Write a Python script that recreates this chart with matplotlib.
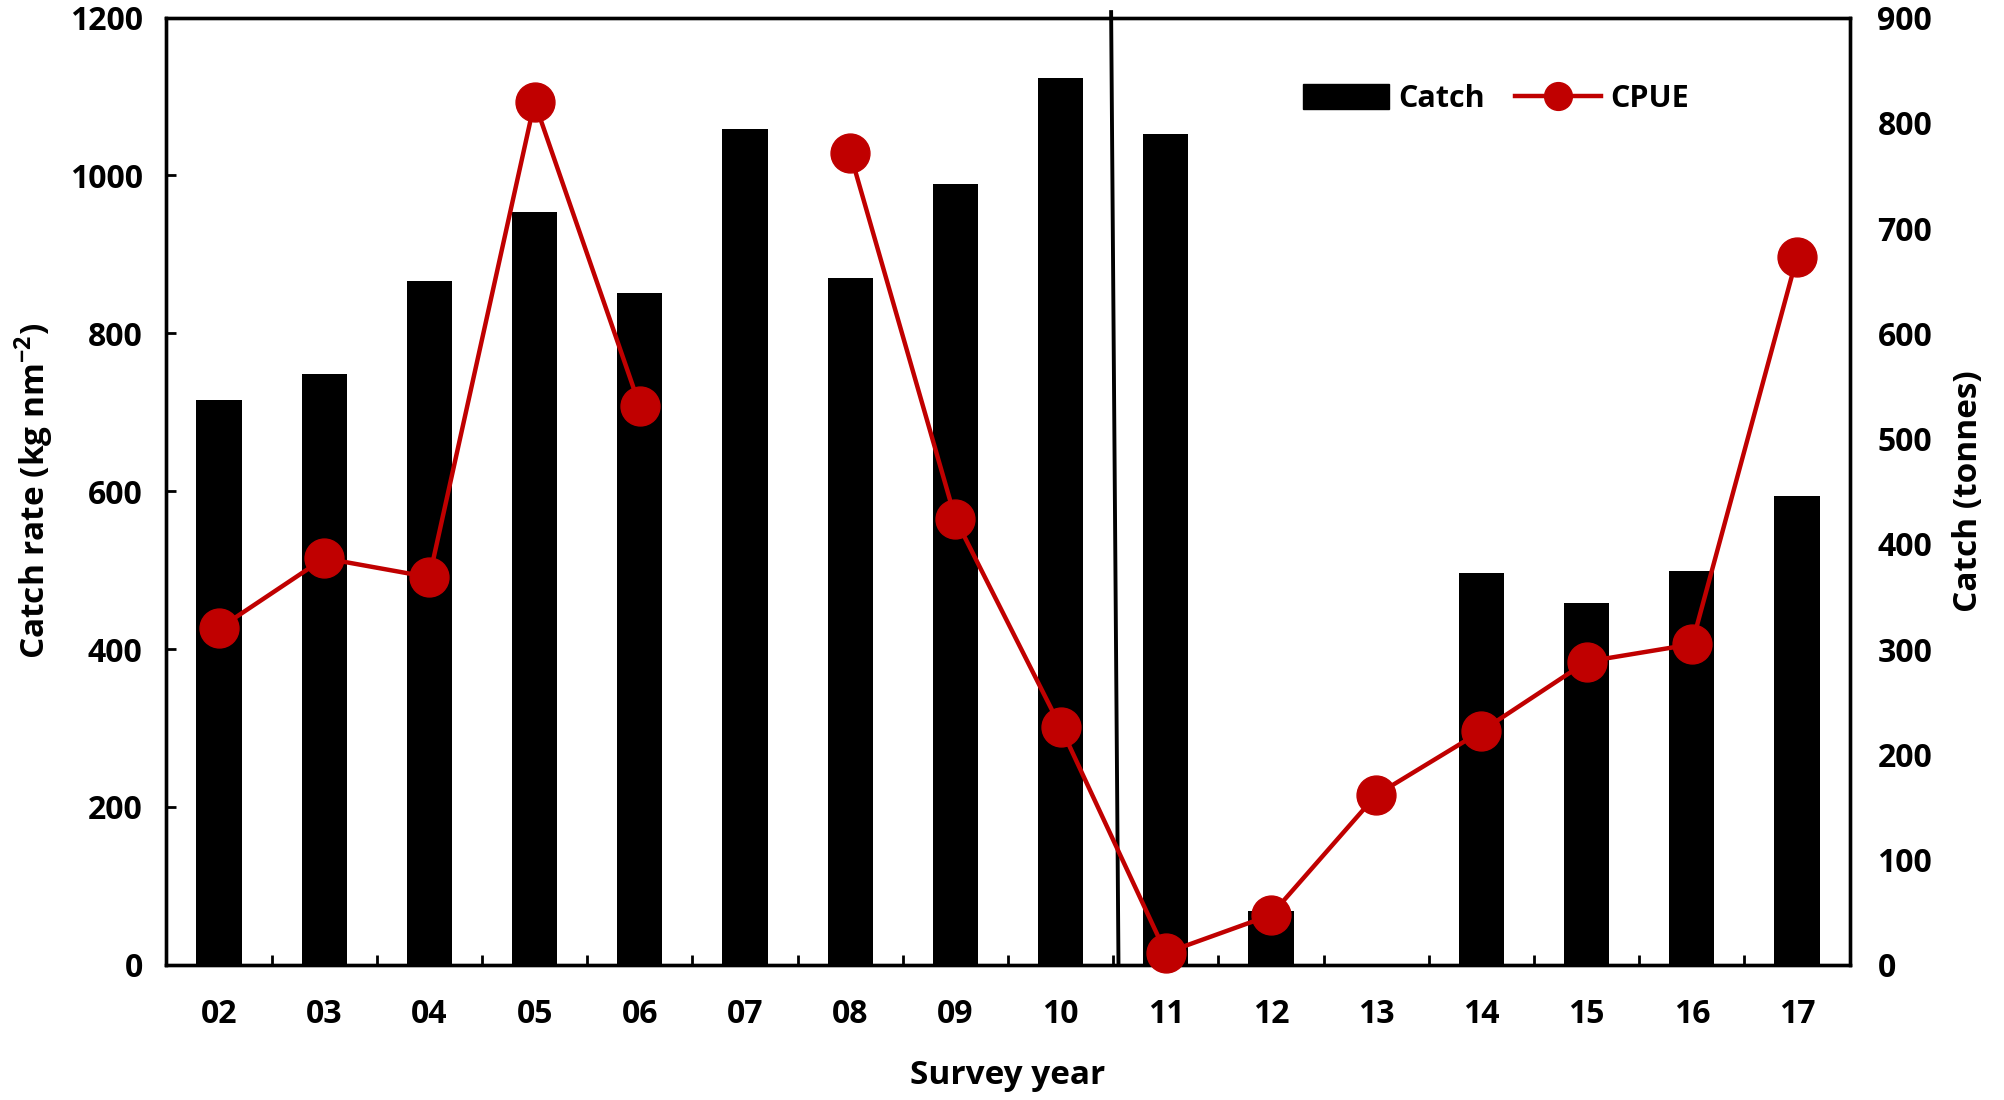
import numpy as np
import matplotlib
matplotlib.use('Agg')
import matplotlib.pyplot as plt
from matplotlib.lines import Line2D
from matplotlib.patches import Patch

# survey years (labels) and values
years = ['02', '03', '04', '05', '06', '07', '08', '09',
         '10', '11', '12', '13', '14', '15', '16', '17']
catch_tonnes = [537, 561, 650, 715, 638, 794, 653, 742,
                843, 789, 51, 0, 372, 344, 374, 445]
cpue = [426, 515, 491, 1093, 708, np.nan, 1028, 565,
        301, 15, 63, 215, 296, 384, 406, 897]

# slanted divider between 10 and 11 (x index at top, at bottom)
divider_x = (8.48, 8.55)
divider_y = (1207, 0)

red = '#C00000'
plt.rcParams['font.family'] = ['Open Sans', 'DejaVu Sans']
plt.rcParams['font.weight'] = 'bold'
plt.rcParams['mathtext.fontset'] = 'custom'
plt.rcParams['mathtext.rm'] = 'Open Sans:bold'
plt.rcParams['mathtext.bf'] = 'Open Sans:bold'

fig = plt.figure(figsize=(20.04, 11.0), dpi=100)
ax = fig.add_axes([0.083, 0.123, 0.840, 0.861])
ax2 = ax.twinx()
ax.set_zorder(ax2.get_zorder() + 1)
ax.patch.set_visible(False)

x = np.arange(len(years))
ax2.bar(x, catch_tonnes, width=0.43, color='black', zorder=2)
ax.plot(x, cpue, color=red, lw=3.2, marker='o', ms=28, zorder=5, clip_on=False)
ax.plot(divider_x, divider_y, color='black', lw=2.8, zorder=3, clip_on=False)

ax.set_xlim(-0.5, len(years) - 0.5)
ax.set_ylim(0, 1200)
ax2.set_ylim(0, 900)
ax.set_yticks(np.arange(0, 1201, 200))
ax2.set_yticks(np.arange(0, 901, 100))

# ticks between categories, labels at category centres
ax.set_xticks(x[:-1] + 0.5)
ax.set_xticklabels([])
ax.set_xticks(x, minor=True)
ax.set_xticklabels(years, minor=True)
ax.tick_params(axis='x', which='major', direction='in', length=7, width=2)
ax.tick_params(axis='x', which='minor', length=0, pad=24, labelsize=23)
ax.tick_params(axis='y', direction='in', length=7, width=2, labelsize=23, pad=17)
ax2.tick_params(axis='y', length=0, labelsize=23, pad=20)

for a in (ax, ax2):
    for s in a.spines.values():
        s.set_linewidth(2.4)

ax.set_ylabel('Catch rate (kg nm$^{\\mathrm{-2}}$)', fontsize=24, fontweight='bold', labelpad=10)
ax2.set_ylabel('Catch (tonnes)', fontsize=24, fontweight='bold', labelpad=14)
ax.set_xlabel('Survey year', fontsize=24, fontweight='bold', labelpad=20)

handles = [Patch(facecolor='black', edgecolor='black'),
           Line2D([], [], color=red, lw=3.2, marker='o', ms=20)]
ax.legend(handles, ['Catch', 'CPUE'], ncol=2, frameon=False, fontsize=22,
          loc='center', bbox_to_anchor=(0.79, 0.914), handlelength=2.8,
          handleheight=0.9, columnspacing=1.0, handletextpad=0.3)

fig.savefig('out.png', dpi=100)
